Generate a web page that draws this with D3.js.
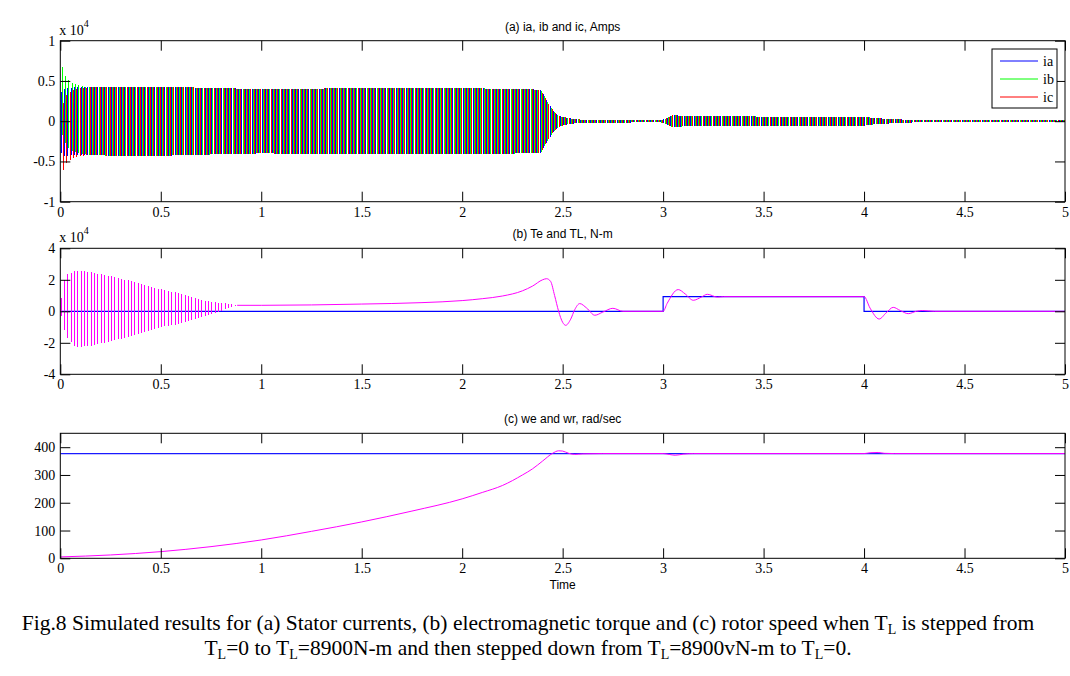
<!DOCTYPE html>
<html><head><meta charset="utf-8">
<script src="https://cdn.jsdelivr.net/npm/d3@7/dist/d3.min.js"></script>
<style>body{margin:0;background:#fff} svg{display:block}</style>
</head><body><svg id="c" width="1070" height="676"></svg>
<script>
// ---------------- data ----------------
const xTicks = [0, 0.5, 1, 1.5, 2, 2.5, 3, 3.5, 4, 4.5, 5];
const xTickLabels = ["0", "0.5", "1", "1.5", "2", "2.5", "3", "3.5", "4", "4.5", "5"];
const yTicksA = [-1, -0.5, 0, 0.5, 1];
const yTickLabelsA = ["-1", "-0.5", "0", "0.5", "1"];
const yTicksB = [-4, -2, 0, 2, 4];
const yTickLabelsB = ["-4", "-2", "0", "2", "4"];
const yTicksC = [0, 100, 200, 300, 400];
const yTickLabelsC = ["0", "100", "200", "300", "400"];

const titles = ["(a) ia, ib and ic, Amps", "(b) Te and TL, N-m", "(c) we and wr, rad/sec"];
const legendLabels = ["ia", "ib", "ic"];

const supplyFreqHz = 60;           // we = 377 rad/s

// stator current amplitude envelope (x 1e4 A)
const iEnvT   = [0, 0.01, 0.05, 0.1, 0.3, 0.5, 0.8, 1.0, 1.5, 2.0, 2.3, 2.39, 2.42, 2.45, 2.485, 2.55, 2.6, 2.99, 3.0, 3.05, 3.1, 3.3, 3.8, 4.0, 4.05, 4.15, 4.25, 5];
const iEnvAmp = [0.35, 0.42, 0.42, 0.42, 0.43, 0.43, 0.41, 0.40, 0.41, 0.41, 0.40, 0.39, 0.27, 0.14, 0.06, 0.03, 0.018, 0.015, 0.02, 0.075, 0.065, 0.06, 0.055, 0.055, 0.04, 0.025, 0.015, 0.012];
// switch-on DC offsets (x 1e4 A)
const iOffT    = [0, 0.01, 0.03, 0.06, 0.1, 0.15];
const iaOffset = [-0.02, -0.02, -0.01, 0, 0, 0];
const ibOffset = [0.30, 0.25, 0.12, 0.05, 0.02, 0];
const icOffset = [-0.28, -0.22, -0.10, -0.04, -0.01, 0];

// electromagnetic torque: oscillation envelope at start (x 1e4 N-m)
const teEnvT     = [0, 0.007, 0.03, 0.075, 0.15, 0.27, 0.37, 0.5, 0.6, 0.7, 0.8, 0.85, 0.88, 0.9];
const teEnvUpper = [0, 1.46, 2.29, 2.6, 2.5, 2.18, 1.86, 1.4, 1.12, 0.7, 0.53, 0.45, 0.40, 0.38];
const teEnvLower = [0, -0.5, -1.6, -2.27, -2.2, -1.84, -1.52, -1.0, -0.78, -0.36, 0.02, 0.25, 0.36, 0.38];
// electromagnetic torque after the start oscillation (x 1e4 N-m)
const teT = [0.88, 1.0, 1.5, 1.8, 2.0, 2.1, 2.2, 2.3, 2.35, 2.4, 2.42, 2.44, 2.46, 2.48, 2.5, 2.515, 2.54, 2.56, 2.585, 2.62, 2.66, 2.7, 2.75, 2.8, 3.0, 3.02, 3.075, 3.11, 3.15, 3.19, 3.22, 3.27, 3.3, 4.0, 4.03, 4.075, 4.11, 4.145, 4.18, 4.22, 4.26, 4.29, 4.35, 5];
const teV = [0.38, 0.38, 0.46, 0.55, 0.68, 0.8, 0.97, 1.3, 1.6, 2.0, 2.07, 1.9, 1.0, 0.0, -0.7, -0.89, -0.5, 0.1, 0.49, 0.2, -0.25, -0.05, 0.19, 0.0, 0.0, 0.5, 1.38, 1.1, 0.70, 0.9, 1.08, 0.9, 0.93, 0.93, 0.2, -0.49, -0.1, 0.25, 0.05, -0.15, 0.0, 0.05, 0.0, 0.0];
// load torque step (x 1e4 N-m)
const tlT = [0, 3, 3, 4, 4, 5];
const tlV = [0, 0, 0.93, 0.93, 0, 0];

// speeds (rad/s)
const weT = [0, 5];
const weV = [377, 377];
const wrT = [0, 0.25, 0.5, 0.75, 1.0, 1.25, 1.5, 1.75, 2.0, 2.1, 2.2, 2.3, 2.35, 2.4, 2.45, 2.48, 2.5, 2.53, 2.56, 2.6, 2.7, 3.0, 3.03, 3.06, 3.1, 3.15, 4.0, 4.03, 4.07, 4.1, 4.15, 5];
const wrV = [5, 12, 24, 42, 66, 97, 131, 170, 214, 237, 262, 300, 322, 350, 378, 387, 386, 378, 374, 376, 377, 377, 374, 371, 375, 377, 377, 380, 381, 378, 377, 377];

// ---------------- drawing ----------------
const svg = d3.select("#c");
const L = 60.3, R = 1065;
const panels = [
  {top: 40.7, bottom: 201.7, dom: [-1, 1], ticks: yTicksA, labels: yTickLabelsA},
  {top: 248.3, bottom: 374.3, dom: [-4, 4], ticks: yTicksB, labels: yTickLabelsB},
  {top: 433.3, bottom: 558.3, dom: [0, 450], ticks: yTicksC, labels: yTickLabelsC}
];
const x = d3.scaleLinear().domain([0, 5]).range([L, R]);
const serif = "'Liberation Serif','Times New Roman',serif";
const sans = "'Liberation Sans',Arial,sans-serif";

panels.forEach((p, i) => {
  p.y = d3.scaleLinear().domain(p.dom).range([p.bottom, p.top]);
  const cid = "clip" + i;
  svg.append("clipPath").attr("id", cid).append("rect")
    .attr("x", L).attr("y", p.top).attr("width", R - L).attr("height", p.bottom - p.top);
  p.g = svg.append("g").attr("clip-path", `url(#${cid})`);
});

const lin = (d, r) => d3.scaleLinear().domain(d).range(r).clamp(true);
const period = 1 / supplyFreqHz;

// ---- panel (a): currents, one peak-to-peak stroke per cycle ----
const ampS = lin(iEnvT, iEnvAmp);
function phaseStrokes(offArr, shift) {
  const off = lin(iOffT, offArr);
  const pts = [];
  for (let n = 0; ; n++) {
    const t = (n + 0.25 + shift) * period;
    if (t > 5) break;
    const o = off(t), a = ampS(t);
    pts.push([t, o - a], [t, o + a], null);
  }
  return pts;
}
const pa = panels[0];
const lineA = d3.line().defined(d => d !== null).x(d => x(d[0])).y(d => pa.y(d[1]));
const phases = [
  {data: phaseStrokes(iaOffset, 0), color: "#0000ff"},
  {data: phaseStrokes(ibOffset, 1 / 3), color: "#00ff00"},
  {data: phaseStrokes(icOffset, 2 / 3), color: "#ff0000"}
];
phases.forEach(ph => {
  pa.g.append("path").attr("d", lineA(ph.data)).attr("fill", "none")
    .attr("stroke", ph.color).attr("stroke-width", 1).attr("shape-rendering", "crispEdges");
});

// ---- panel (b): torques ----
const pb = panels[1];
const upS = lin(teEnvT, teEnvUpper), loS = lin(teEnvT, teEnvLower);
const teOsc = [];
for (let n = 0; ; n++) {
  const t = (n + 0.25) * period;
  if (t > teT[0]) break;
  teOsc.push([t, loS(t)], [t, upS(t)], null);
}
const lineB = d3.line().defined(d => d !== null).x(d => x(d[0])).y(d => pb.y(d[1]));
pb.g.append("path").attr("d", lineB(tlT.map((t, k) => [t, tlV[k]])))
  .attr("fill", "none").attr("stroke", "#0000ff").attr("stroke-width", 1.2);
pb.g.append("path").attr("d", lineB(teOsc))
  .attr("fill", "none").attr("stroke", "#ff00ff").attr("stroke-width", 1).attr("shape-rendering", "crispEdges");
pb.g.append("path").attr("d", d3.line().curve(d3.curveMonotoneX).x(d => x(d[0])).y(d => pb.y(d[1]))(teT.map((t, k) => [t, teV[k]])))
  .attr("fill", "none").attr("stroke", "#ff00ff").attr("stroke-width", 1);

// ---- panel (c): speeds ----
const pc = panels[2];
pc.g.append("path").attr("d", d3.line().x(d => x(d[0])).y(d => pc.y(d[1]))(weT.map((t, k) => [t, weV[k]])))
  .attr("fill", "none").attr("stroke", "#1a1aff").attr("stroke-width", 1.2);
pc.g.append("path").attr("d", d3.line().curve(d3.curveMonotoneX).x(d => x(d[0])).y(d => pc.y(d[1]))(wrT.map((t, k) => [t, wrV[k]])))
  .attr("fill", "none").attr("stroke", "#ff00ff").attr("stroke-width", 1);

// ---- axes, frames, titles ----
panels.forEach((p, i) => {
  const fmtX = (d) => xTickLabels[xTicks.indexOf(d)];
  const fmtY = (d) => p.labels[p.ticks.indexOf(d)];
  const gb = svg.append("g").attr("transform", `translate(0,${p.bottom})`)
    .call(d3.axisBottom(x).tickValues(xTicks).tickFormat(fmtX).tickSize(-10).tickPadding(5));
  const gt = svg.append("g").attr("transform", `translate(0,${p.top})`)
    .call(d3.axisTop(x).tickValues(xTicks).tickFormat("").tickSize(-10));
  const gl = svg.append("g").attr("transform", `translate(${L},0)`)
    .call(d3.axisLeft(p.y).tickValues(p.ticks).tickFormat(fmtY).tickSize(-10).tickPadding(5));
  const gr = svg.append("g").attr("transform", `translate(${R},0)`)
    .call(d3.axisRight(p.y).tickValues(p.ticks).tickFormat("").tickSize(-10));
  [gb, gt, gl, gr].forEach(g => {
    g.select(".domain").remove();
    g.selectAll(".tick line").attr("stroke", "#000").attr("stroke-width", 1);
    g.selectAll("text").attr("font-family", serif).attr("font-size", 14).attr("fill", "#000");
  });
  svg.append("rect").attr("x", L).attr("y", p.top).attr("width", R - L).attr("height", p.bottom - p.top)
    .attr("fill", "none").attr("stroke", "#000").attr("stroke-width", 1);
  svg.append("text").attr("x", (L + R) / 2).attr("y", p.top - 10).attr("text-anchor", "middle")
    .attr("font-family", sans).attr("font-size", 12).text(titles[i]);
});

// exponent labels
[panels[0], panels[1]].forEach(p => {
  const t = svg.append("text").attr("x", L - 1).attr("y", p.top - 6)
    .attr("font-family", serif).attr("font-size", 14);
  t.append("tspan").text("x 10");
  t.append("tspan").attr("font-size", 10).attr("dy", -8).text("4");
});

// x label
svg.append("text").attr("x", (L + R) / 2).attr("y", 589).attr("text-anchor", "middle")
  .attr("font-family", sans).attr("font-size", 12).text("Time");

// legend
const lg = svg.append("g");
lg.append("rect").attr("x", 992).attr("y", 49).attr("width", 65).attr("height", 59)
  .attr("fill", "#fff").attr("stroke", "#000").attr("stroke-width", 1);
legendLabels.forEach((lab, k) => {
  const yy = 61 + k * 18;
  lg.append("line").attr("x1", 1000).attr("x2", 1038).attr("y1", yy).attr("y2", yy)
    .attr("stroke", phases[k].color).attr("stroke-width", 1);
  lg.append("text").attr("x", 1043).attr("y", yy + 4.5).attr("font-family", serif)
    .attr("font-size", 14).text(lab);
});

// caption
function capLine(y, parts) {
  const t = svg.append("text").attr("x", 528).attr("y", y).attr("text-anchor", "middle")
    .attr("font-family", serif).attr("font-size", 21.5);
  let shifted = false;
  parts.forEach(pt => {
    if (typeof pt === "object") {
      t.append("tspan").attr("font-size", 14).attr("dy", 4).text(pt.subText);
      shifted = true;
    } else {
      const s = t.append("tspan").text(pt);
      if (shifted) { s.attr("dy", -4); shifted = false; }
    }
  });
}
capLine(630, ["Fig.8 Simulated results for (a) Stator currents, (b) electromagnetic torque and (c) rotor speed when T", {subText: "L"}, " is stepped from"]);
capLine(655, ["T", {subText: "L"}, "=0 to T", {subText: "L"}, "=8900N-m and then stepped down from T", {subText: "L"}, "=8900vN-m to T", {subText: "L"}, "=0."]);
</script></body></html>
